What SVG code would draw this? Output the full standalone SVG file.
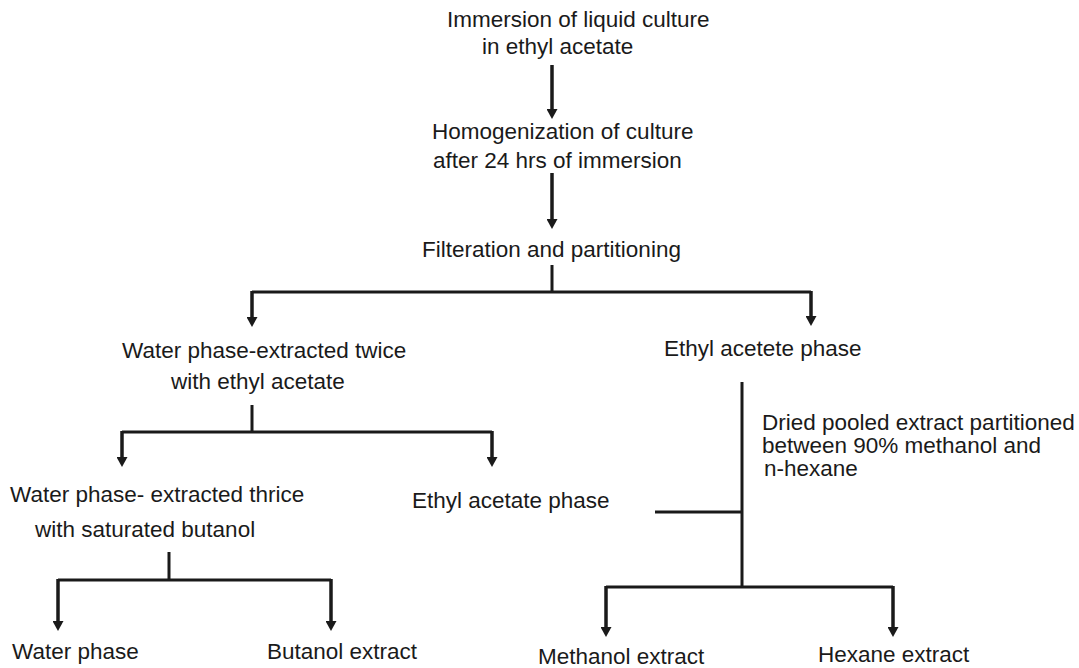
<svg xmlns="http://www.w3.org/2000/svg" width="1079" height="668" viewBox="0 0 1079 668">
<style>
text{font-family:"Liberation Sans",Arial,sans-serif;font-size:22.5px;fill:#1a1a1a}
.ln{stroke:#1a1a1a;stroke-width:3;fill:none}
.ar{stroke:#1a1a1a;stroke-width:3.5;fill:none;marker-end:url(#ah)}
</style>
<defs>
<marker id="ah" markerUnits="userSpaceOnUse" markerWidth="10" markerHeight="11" refX="1" refY="5.5" orient="auto" viewBox="0 0 10 11">
<path d="M0,0 L10,5.5 L0,11 Z" fill="#1a1a1a"/>
</marker>
</defs>
<rect width="1079" height="668" fill="#fff"/>
<g id="n1"><text x="447" y="27">Immersion of liquid culture</text><text x="482" y="54">in ethyl acetate</text></g>
<g id="n2"><text x="432" y="139">Homogenization of culture</text><text x="433" y="168">after 24 hrs of immersion</text></g>
<g id="n3"><text x="422" y="257">Filteration and partitioning</text></g>
<g id="n4"><text x="122" y="358">Water phase-extracted twice</text><text x="171" y="389">with ethyl acetate</text></g>
<g id="n5"><text x="664" y="356">Ethyl acetete phase</text></g>
<g id="n6"><text x="10" y="502">Water phase- extracted thrice</text><text x="35" y="537">with saturated butanol</text></g>
<g id="n7"><text x="412" y="508">Ethyl acetate phase</text></g>
<g id="n8"><text x="762" y="430">Dried pooled extract partitioned</text><text x="762" y="453">between 90% methanol and</text><text x="764" y="476">n-hexane</text></g>
<g id="n9"><text x="12" y="659">Water phase</text></g>
<g id="n10"><text x="267" y="659">Butanol extract</text></g>
<g id="n11"><text x="538" y="664">Methanol extract</text></g>
<g id="n12"><text x="818" y="662">Hexane extract</text></g>
<g id="connectors">
<path class="ar" d="M552,65 V110"/>
<path class="ar" d="M552,173 V220"/>
<path class="ln" d="M552,265 V292 M252,292 H811"/>
<path class="ar" d="M252,291 V318"/>
<path class="ar" d="M811,291 V317"/>
<path class="ln" d="M252,405 V432 M122,432 H492"/>
<path class="ar" d="M122,431 V458"/>
<path class="ar" d="M492,431 V458"/>
<path class="ln" d="M169,552 V580 M58,580 H331"/>
<path class="ar" d="M58,579 V622"/>
<path class="ar" d="M331,579 V622"/>
<path class="ln" d="M742,382 V587 M655,512 H742 M606,587 H893"/>
<path class="ar" d="M606,586 V628"/>
<path class="ar" d="M893,586 V628"/>
</g>
</svg>
